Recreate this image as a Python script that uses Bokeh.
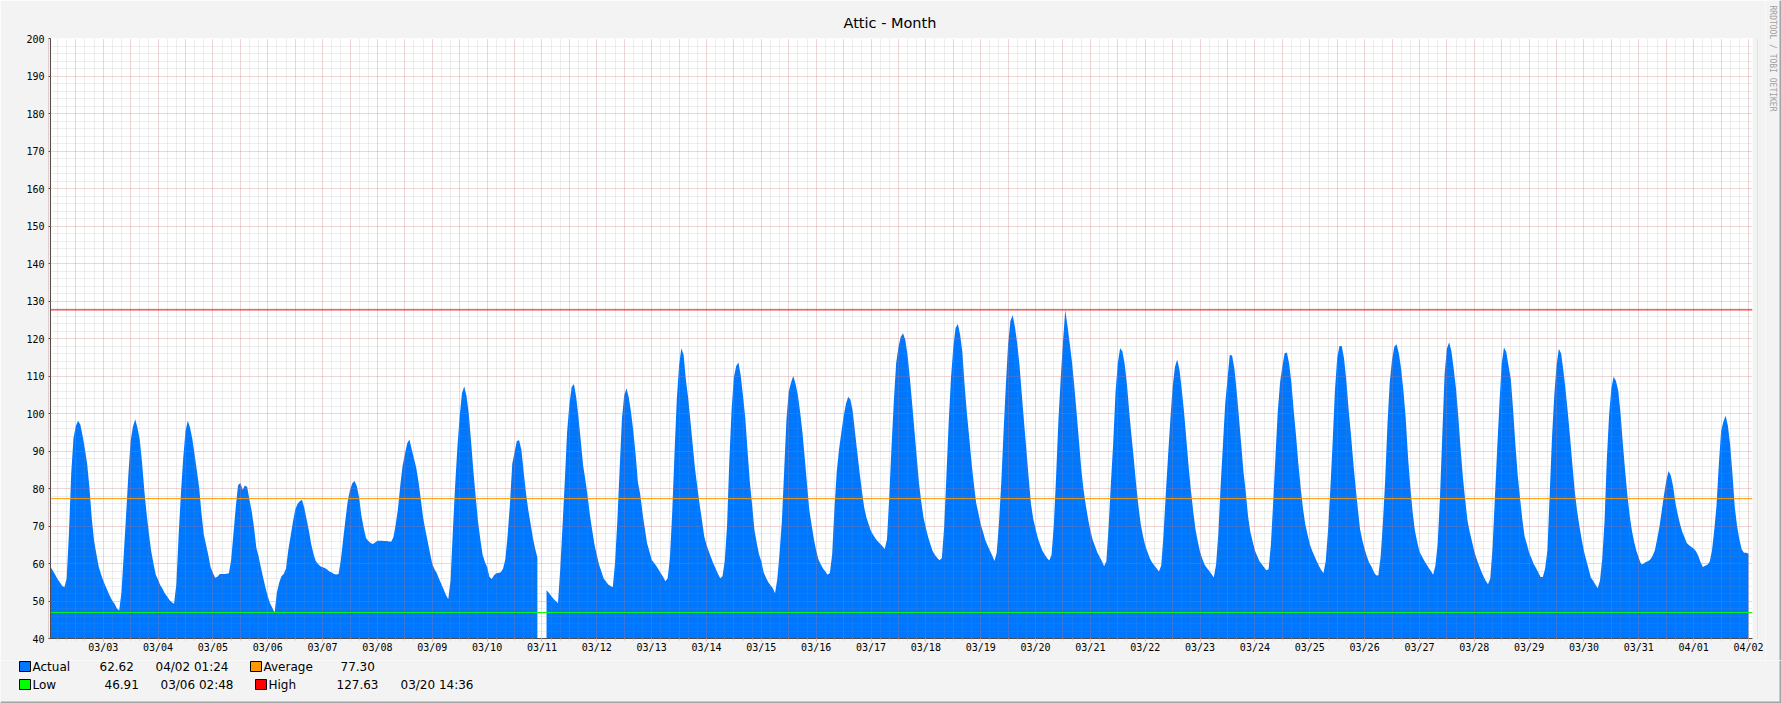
import math
import numpy as np
from bokeh.plotting import figure
from bokeh.layouts import column, row
from bokeh.models import Range1d, FixedTicker, SingleIntervalTicker, Span
from bokeh.core.properties import value
from bokeh.embed import file_html
from bokeh.resources import INLINE

# ---------------- data ----------------
title_text = "Attic - Month"
credit_text = "RRDTOOL / TOBI OETIKER"

# tick labels at midnight of day 1..31 (day 0 = 03/02 00:00)
day_labels = ["03/03", "03/04", "03/05", "03/06", "03/07", "03/08", "03/09", "03/10",
              "03/11", "03/12", "03/13", "03/14", "03/15", "03/16", "03/17", "03/18",
              "03/19", "03/20", "03/21", "03/22", "03/23", "03/24", "03/25", "03/26",
              "03/27", "03/28", "03/29", "03/30", "03/31", "04/01", "04/02"]

# hourly readings, one row per day starting 03/02 00:00 (None = no data)
temp_hourly = [
    59.5, 59.0, 58.1, 57.0, 55.9, 55.0, 54.1, 53.7, 56.0, 68.0, 84.0, 93.5, 96.6, 98.1, 97.0, 94.0, 90.5, 86.5, 80.0, 72.0, 66.0, 62.6, 59.2, 57.2,  # 03/02
    55.5, 54.0, 52.6, 51.2, 50.1, 49.2, 48.0, 47.5, 52.4, 62.5, 72.8, 83.6, 92.7, 96.5, 98.5, 96.2, 93.0, 86.9, 79.5, 73.2, 68.0, 63.3, 60.0, 57.0,  # 03/03
    55.7, 54.2, 53.2, 52.0, 51.2, 50.3, 49.7, 49.3, 54.5, 67.5, 78.6, 88.0, 95.3, 98.1, 96.3, 93.2, 89.0, 84.7, 80.2, 73.4, 67.8, 65.0, 62.2, 59.0,  # 03/04
    57.5, 56.2, 56.5, 57.2, 57.2, 57.2, 57.3, 57.4, 61.0, 68.0, 75.0, 80.9, 81.5, 79.7, 80.8, 80.4, 77.0, 73.9, 69.6, 64.3, 61.9, 59.0, 56.2, 53.6,  # 03/05
    51.3, 49.4, 48.2, 46.9, 52.3, 54.9, 56.6, 57.2, 58.7, 63.6, 67.3, 71.0, 74.3, 75.9, 76.6, 77.0, 74.8, 71.8, 68.8, 65.2, 62.6, 60.7, 59.9, 59.3,  # 03/06
    59.0, 58.8, 58.4, 57.9, 57.6, 57.2, 57.1, 57.2, 61.0, 66.4, 71.7, 76.6, 79.6, 81.4, 82.0, 80.6, 77.6, 72.7, 69.5, 66.8, 66.0, 65.5, 65.2, 65.6,  # 03/07
    66.1, 66.1, 66.1, 66.0, 66.0, 65.9, 65.8, 67.0, 70.4, 74.6, 80.8, 86.0, 89.1, 92.0, 93.1, 90.5, 88.0, 85.5, 81.7, 77.1, 72.2, 68.9, 65.9, 62.8,  # 03/08
    59.9, 58.5, 57.4, 55.9, 54.5, 53.1, 51.6, 50.5, 55.5, 68.5, 80.7, 91.1, 99.3, 105.5, 107.2, 104.6, 99.8, 92.4, 84.6, 77.8, 71.3, 66.6, 62.4, 60.5,  # 03/09
    59.0, 56.5, 55.9, 56.8, 57.4, 57.5, 57.7, 58.7, 61.2, 67.7, 75.9, 86.6, 89.6, 92.7, 92.9, 90.3, 84.5, 78.9, 74.3, 70.7, 67.0, 64.0, 61.6, None,  # 03/10
    None, None, 52.9, 52.2, 51.4, 50.6, 50.0, 49.4, 58.5, 70.0, 82.0, 95.0, 102.4, 107.1, 107.9, 104.3, 98.9, 92.7, 86.2, 82.3, 77.9, 72.9, 68.8, 65.0,  # 03/11
    62.3, 59.7, 57.9, 56.0, 55.2, 54.4, 54.0, 53.7, 60.3, 71.5, 85.2, 98.6, 104.9, 106.7, 104.3, 100.2, 95.2, 89.0, 81.6, 78.5, 73.5, 69.4, 65.4, 63.3,  # 03/12
    61.0, 60.2, 59.4, 58.4, 57.4, 56.5, 55.3, 56.0, 61.5, 73.6, 89.3, 103.6, 112.8, 117.4, 115.6, 108.9, 104.1, 97.9, 91.4, 85.2, 80.4, 75.8, 71.6, 67.3,  # 03/13
    65.0, 63.3, 61.6, 60.0, 58.7, 57.3, 56.1, 56.6, 60.7, 70.0, 87.5, 101.2, 109.7, 112.7, 113.6, 110.1, 104.6, 98.6, 89.9, 81.5, 75.5, 68.9, 65.5, 62.4,  # 03/14
    60.6, 57.7, 56.3, 55.1, 54.2, 53.4, 52.1, 55.9, 62.9, 71.4, 84.8, 98.4, 105.8, 108.3, 110.0, 107.9, 104.9, 100.3, 94.9, 88.2, 81.1, 74.3, 70.3, 66.5,  # 03/15
    63.5, 61.1, 59.8, 58.7, 57.9, 57.0, 57.5, 62.5, 74.7, 84.5, 90.4, 94.9, 99.2, 102.5, 104.5, 103.7, 100.6, 95.0, 89.6, 84.3, 79.5, 75.0, 72.3, 70.4,  # 03/16
    68.6, 67.6, 66.6, 65.9, 65.3, 64.6, 63.9, 66.5, 78.0, 91.5, 103.4, 113.4, 117.7, 120.4, 121.4, 119.7, 115.5, 109.5, 102.7, 95.5, 88.5, 81.4, 76.4, 72.2,  # 03/17
    69.5, 67.1, 65.1, 63.3, 62.3, 61.5, 60.9, 61.5, 69.6, 83.5, 97.7, 109.5, 117.6, 122.8, 123.9, 121.0, 116.2, 107.2, 99.8, 93.5, 86.9, 81.2, 76.2, 73.4,  # 03/18
    70.5, 68.5, 66.3, 64.8, 63.5, 62.2, 60.7, 62.8, 70.9, 81.5, 95.0, 107.5, 118.5, 124.7, 126.2, 123.0, 118.6, 112.8, 105.0, 97.5, 90.2, 82.8, 75.9, 71.9,  # 03/19
    69.3, 66.8, 65.0, 63.4, 62.4, 61.5, 60.8, 62.3, 70.2, 83.2, 98.1, 109.3, 119.0, 127.63, 123.3, 118.5, 113.5, 107.0, 100.0, 92.7, 85.3, 79.7, 75.5, 71.9,  # 03/20
    68.8, 66.3, 64.7, 63.0, 61.8, 60.7, 59.3, 60.6, 70.1, 81.6, 92.3, 105.7, 113.4, 117.4, 116.6, 113.2, 107.8, 100.4, 94.0, 87.9, 81.2, 75.5, 70.6, 67.4,  # 03/21
    64.8, 63.1, 61.4, 60.3, 59.5, 58.7, 57.9, 59.5, 67.6, 78.6, 88.8, 98.5, 107.1, 112.4, 114.4, 111.6, 106.4, 100.3, 93.1, 85.8, 79.5, 73.9, 69.1, 65.9,  # 03/22
    63.1, 61.2, 59.7, 58.8, 58.0, 57.2, 56.3, 59.7, 68.0, 80.7, 91.6, 102.6, 109.2, 115.6, 115.5, 112.1, 106.1, 99.1, 91.8, 84.4, 79.1, 72.6, 68.4, 65.9,  # 03/23
    63.5, 62.0, 60.6, 59.8, 59.0, 58.2, 58.5, 65.1, 76.4, 88.6, 100.5, 108.3, 112.5, 116.1, 116.3, 113.2, 108.0, 100.6, 94.1, 86.7, 80.4, 74.8, 70.6, 67.8,  # 03/24
    65.2, 63.5, 62.1, 60.7, 59.4, 58.3, 57.4, 60.7, 68.8, 79.8, 92.1, 105.9, 114.8, 118.0, 118.0, 114.7, 108.8, 101.1, 94.6, 87.3, 80.8, 74.8, 69.2, 66.2,  # 03/25
    63.9, 61.9, 60.2, 59.2, 57.8, 56.9, 56.8, 61.7, 70.7, 82.1, 97.1, 108.3, 114.3, 117.8, 118.5, 116.0, 111.8, 106.0, 98.7, 88.4, 80.5, 73.8, 68.8, 65.8,  # 03/26
    63.2, 62.0, 60.9, 59.9, 58.9, 58.0, 57.0, 59.5, 65.5, 77.8, 94.3, 110.4, 117.3, 119.0, 116.6, 111.9, 106.6, 99.2, 90.7, 83.1, 77.1, 71.6, 68.4, 65.9,  # 03/27
    63.2, 61.3, 59.6, 58.0, 56.6, 55.4, 54.5, 56.0, 64.3, 77.3, 90.3, 102.6, 113.3, 117.6, 116.4, 112.7, 109.1, 100.9, 91.7, 83.6, 77.6, 71.9, 67.3, 65.2,  # 03/28
    62.9, 61.4, 59.9, 58.8, 57.6, 56.4, 56.4, 58.6, 63.5, 78.4, 93.5, 104.8, 112.8, 117.3, 116.0, 111.4, 106.0, 99.8, 93.1, 85.8, 79.1, 74.0, 70.0, 66.4,  # 03/29
    63.3, 60.9, 58.6, 56.3, 55.4, 54.4, 53.4, 55.5, 61.3, 71.2, 87.8, 99.6, 106.9, 109.8, 108.7, 106.1, 100.0, 92.1, 84.8, 78.2, 72.8, 68.7, 65.7, 63.3,  # 03/30
    61.5, 59.8, 59.9, 60.4, 60.6, 61.1, 62.0, 63.5, 66.5, 69.7, 73.9, 78.2, 82.0, 84.7, 83.5, 80.6, 76.3, 73.2, 70.6, 68.5, 67.0, 65.5, 64.9, 64.4,  # 03/31
    64.0, 63.3, 62.1, 60.4, 59.1, 59.4, 59.7, 60.5, 63.4, 68.8, 75.5, 86.3, 95.3, 97.8, 99.4, 96.7, 91.5, 83.7, 75.0, 70.0, 66.5, 63.8, 62.9, 62.9,  # 04/01
    62.62,  # 04/02 00:00
]

# legend / statistics as printed under the chart
stat_names = ["Actual", "Average", "Low", "High"]
stat_values = [62.62, 77.30, 46.91, 127.63]
stat_times = ["04/02 01:24", "", "03/06 02:48", "03/20 14:36"]

# ---------------- styling ----------------
AREA = "#0077FF"
C_AVG = "#FF9900"
C_LOW = "#00FF00"
C_HIGH = "#FF0000"
BACK = "#F3F3F3"
SHADE_B = "#A4A4A4"
AXIS_C = "#4D4D4D"
FONT = "DejaVu Sans"
MONO = "DejaVu Sans Mono"

MAIN_W, MAIN_H = 1765, 660
CRED_W = 16
LEG_W, LEG_H = MAIN_W + CRED_W, 43
FL, FT = 50, 38
FW, FH = 1702, 600
FR, FB = MAIN_W - FL - FW, MAIN_H - FT - FH
PPD = 54.843                               # pixels per day
Y0, Y1 = 40, 200
x_start = 31 - (1748 - FL) / PPD           # 04/02 midnight sits at x=1748
x_end = x_start + FW / PPD


def no_frame_align(f):
    if "frame_align" in f.properties():
        f.frame_align = False


p = figure(width=MAIN_W, height=MAIN_H, output_backend="svg", toolbar_location=None,
           title=title_text,
           x_range=Range1d(x_start, x_end), y_range=Range1d(Y0, Y1),
           min_border_left=FL, min_border_right=FR, min_border_top=FT, min_border_bottom=FB,
           border_fill_color=BACK, background_fill_color="white", outline_line_color=None)
no_frame_align(p)
p.title.align = "left"
p.title.offset = 793
p.title.standoff = 16
p.title.text_font = FONT
p.title.text_font_size = "14.5px"
p.title.text_font_style = "normal"
p.title.text_color = "black"

# ---- area ----
vals = np.array([np.nan if v is None else v for v in temp_hourly], dtype=float)
t_days = np.arange(len(vals)) / 24.0
valid = ~np.isnan(vals)
runs, start = [], None
for i, ok in enumerate(valid):
    if ok and start is None:
        start = i
    if not ok and start is not None:
        runs.append((start, i))
        start = None
if start is not None:
    runs.append((start, len(vals)))
for a, b in runs:
    p.varea(x=t_days[a:b], y1=Y0, y2=vals[a:b], fill_color=AREA)

# ---- axes / grid ----
minor_4h = [k / 6 for k in range(0, 32 * 6)]
p.xaxis.ticker = FixedTicker(ticks=list(range(1, len(day_labels) + 1)), minor_ticks=minor_4h)
p.xaxis.major_label_overrides = {i + 1: lab for i, lab in enumerate(day_labels)}
p.xgrid.ticker = FixedTicker(ticks=[k / 2 for k in range(0, 64)], minor_ticks=minor_4h)
p.yaxis.ticker = SingleIntervalTicker(interval=10, num_minor_ticks=5)

for ax in (p.xaxis[0], p.yaxis[0]):
    ax.axis_line_color = AXIS_C
    ax.major_label_text_font = MONO
    ax.major_label_text_font_size = "10px"
    ax.major_label_text_color = "black"
    ax.major_tick_in = 0
    ax.minor_tick_in = 0
p.xaxis.major_tick_out = 3
p.xaxis.major_tick_line_color = "#E8A0A0"
p.xaxis.minor_tick_out = 2
p.xaxis.minor_tick_line_color = "#C8C8C8"
p.xaxis.major_label_standoff = 0
p.yaxis.major_tick_out = 2
p.yaxis.major_tick_line_color = AXIS_C
p.yaxis.minor_tick_out = 0
p.yaxis.major_label_standoff = 4

for g in (p.xgrid[0], p.ygrid[0]):
    g.level = "guide"
    g.grid_line_color = "#E86060"
    g.grid_line_alpha = 0.35
    g.grid_line_dash = "1 1"
    g.minor_grid_line_color = "#8C8C8C"
    g.minor_grid_line_alpha = 0.3
    g.minor_grid_line_dash = "1 1"

# ---- rules ----
for v, c in ((stat_values[3], C_HIGH), (stat_values[1], C_AVG), (stat_values[2], C_LOW)):
    p.add_layout(Span(location=v, dimension="width", line_color=c, line_width=1))


def panel(w, h):
    """a plain pixel-space panel: x = column, y = row from the top"""
    f = figure(width=w, height=h, output_backend="svg", toolbar_location=None,
               x_range=Range1d(0, w), y_range=Range1d(h, 0),
               x_axis_type=None, y_axis_type=None, min_border=0,
               border_fill_color=BACK, background_fill_color=BACK, outline_line_color=None)
    no_frame_align(f)
    f.title.visible = False
    f.xgrid.visible = False
    f.ygrid.visible = False
    return f


# ---- credit strip (right of the chart) ----
cred = panel(CRED_W, MAIN_H)
cred.text(x=[6.5], y=[5], text=[credit_text], angle=-math.pi / 2,
          text_align="left", text_baseline="middle", text_font=value(MONO),
          text_font_size="8px", text_color="#A0A0A0")
cred.quad(left=[CRED_W - 2], right=[CRED_W], top=[0], bottom=[MAIN_H],
          fill_color=SHADE_B, line_color=None)

# ---- legend strip (below the chart) ----
leg = panel(LEG_W, LEG_H)
rows_y = [6, 24]
legend_items = [
    # (row, box_left, color, stat index, name_x, value_x, time_x)
    (0, 19, AREA, 0, 32, 99, 155),
    (0, 250, C_AVG, 1, 263, 340, None),
    (1, 19, C_LOW, 2, 32, 104, 160),
    (1, 255, C_HIGH, 3, 268, 336, 400),
]
for r, bx, col, k, nx, vx, tx in legend_items:
    yc = rows_y[r]
    leg.quad(left=[bx], right=[bx + 11], top=[yc - 5], bottom=[yc + 5],
             fill_color=col, line_color="black", line_width=1)
    xs, texts = [nx, vx], [stat_names[k], "%.2f" % stat_values[k]]
    if tx is not None and stat_times[k]:
        xs.append(tx)
        texts.append(stat_times[k])
    leg.text(x=xs, y=[yc] * len(xs), text=texts, text_align="left", text_baseline="middle",
             text_font=value(FONT), text_font_size="12px", text_color="black")
leg.quad(left=[0], right=[LEG_W], top=[LEG_H - 2], bottom=[LEG_H],
         fill_color=SHADE_B, line_color=None)
leg.quad(left=[LEG_W - 2], right=[LEG_W], top=[0], bottom=[LEG_H],
         fill_color=SHADE_B, line_color=None)

layout = column(row(p, cred, spacing=0), leg, spacing=0)
open("out.html", "w").write(file_html(layout, INLINE))
